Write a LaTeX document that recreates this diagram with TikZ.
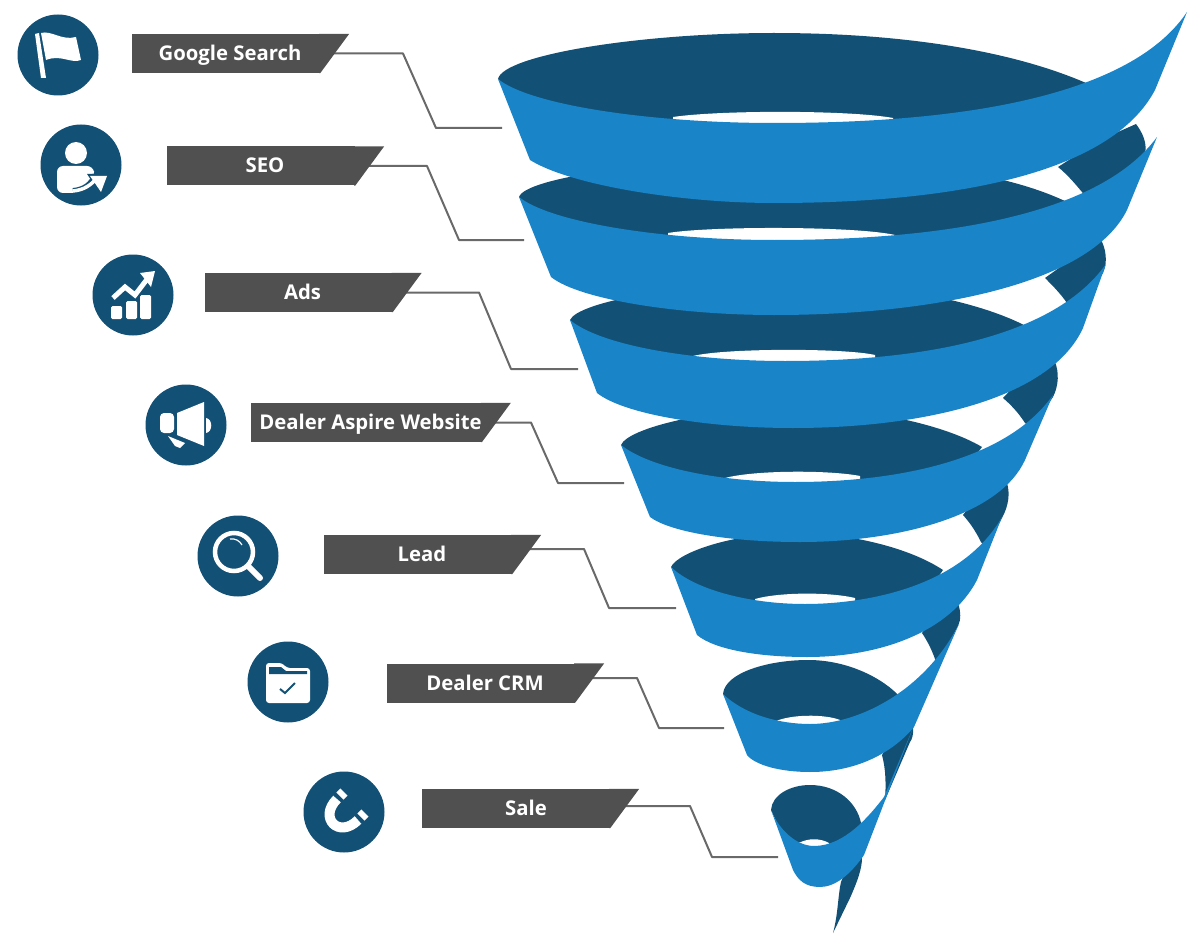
\documentclass[tikz,border=0pt]{standalone}
\usepackage{fontspec}
\setmainfont{Open Sans}
\usepackage{tikz}
\definecolor{funnelblue}{HTML}{1A84C9}
\definecolor{funneldark}{HTML}{125175}
\definecolor{taggray}{HTML}{505050}
\definecolor{wiregray}{HTML}{696969}
\tikzset{
  front/.style={fill=funnelblue},
  back/.style={fill=funneldark},
  hole/.style={fill=white},
  badge/.style={circle,fill=funneldark,minimum size=81pt,inner sep=0pt},
  tag/.style={rectangle,fill=taggray,inner sep=0pt,minimum height=39pt,minimum width=188pt,
    text=white,font=\fontsize{20.3}{23}\selectfont\bfseries,text height=14pt,text depth=0pt,
    execute at begin node={\hspace{8pt}}},
  wire/.style={draw=wiregray,line width=2pt,line join=round}
}
\begin{document}
\begin{tikzpicture}[x=1pt,y=-1pt]
  \useasboundingbox (0,0) rectangle (1200,947);

  % strips behind the ribbon
  \fill[back] (1100,140) -- (1136,124) .. controls (1146,137) and (1148,150) .. (1143,158) -- (1100,205) -- (1086,197) .. controls (1078,187) and (1068,175) .. (1058,167) -- cycle;
  \fill[back] (1070,260) -- (1100,238) .. controls (1106,248) and (1108,262) .. (1103,273) -- (1075,310) -- (1067,303) .. controls (1060,293) and (1052,285) .. (1045,278) -- cycle;
  \fill[back] (1020,380) -- (1055,362) .. controls (1059,372) and (1059,385) .. (1053,397) -- (1032,428) -- (1025,423) .. controls (1018,412) and (1010,404) .. (1003,398) -- cycle;
  \fill[back] (975,500) -- (1007,483) .. controls (1010,493) and (1009,505) .. (1002,518) -- (986,548) -- (981,542) .. controls (975,530) and (970,523) .. (963,515) -- cycle;
  \fill[back] (935,615) -- (958,603) .. controls (961,612) and (961,620) .. (958,626) -- (937,665) .. controls (933,652) and (928,642) .. (922,633) -- cycle;
  \fill[back] (895,735) -- (913,726) .. controls (914,733) and (912,740) .. (910,742) -- (885,800) .. controls (886,785) and (886,770) .. (882,755) -- cycle;
  \fill[back] (850,860) -- (862,858) .. controls (862,868) and (858,880) .. (850,898) -- (833,933) .. controls (838,915) and (838,895) .. (841,882) -- cycle;

  % layer 7
  \fill[back] (771,810) .. controls (772,795) and (790,785) .. (810,785) .. controls (838,785) and (857,803) .. (861,823) -- (850,850) -- (785,840) -- cycle;
  \fill[hole] (829,843) .. controls (820,838) and (808,838) .. (799,843) -- (799,848) -- (829,848) -- cycle;
  \fill[front] (771,810) .. controls (780,832) and (798,846) .. (814,846) .. controls (845,846) and (870,815) .. (884,797) -- (913,728) -- (864,855) .. controls (850,875) and (835,887) .. (820,887) .. controls (805,887) and (798,880) .. (793,870) -- cycle;

  % layer 6
  \fill[back] (723,694) .. controls (725,672) and (770,660) .. (808,660) .. controls (850,660) and (885,680) .. (900,697) -- (880,730) -- (808,745) -- (750,730) -- cycle;
  \fill[hole] (840,720) .. controls (825,714) and (790,714) .. (774,722) -- (774,728) -- (840,728) -- cycle;
  \fill[front] (723,694) .. controls (745,715) and (780,724) .. (810,724) .. controls (860,724) and (925,690) .. (959,624) -- (914,727) .. controls (895,750) and (860,772) .. (810,772) .. controls (780,772) and (755,765) .. (747,755) -- cycle;

  % layer 5
  \fill[back] (671,567) .. controls (678,552) and (735,533) .. (795,533) .. controls (850,533) and (910,548) .. (943,570) -- (915,610) -- (800,625) -- (700,600) -- cycle;
  \fill[hole] (855,598) .. controls (830,592) and (780,592) .. (755,599) -- (755,607) -- (855,607) -- cycle;
  \fill[front] (671,567) .. controls (695,590) and (750,604) .. (805,604) .. controls (860,604) and (960,590) .. (1002,517) -- (977,580) .. controls (950,632) and (880,657) .. (807,657) .. controls (760,657) and (715,650) .. (697,635) -- cycle;

  % layer 4
  \fill[back] (621,445) .. controls (628,428) and (710,408) .. (795,408) .. controls (870,408) and (945,425) .. (982,447) -- (950,490) -- (795,510) -- (655,480) -- cycle;
  \fill[hole] (860,476) .. controls (830,470) and (755,470) .. (725,478) -- (725,486) -- (860,486) -- cycle;
  \fill[front] (621,445) .. controls (650,468) and (720,482) .. (795,482) .. controls (870,482) and (1000,470) .. (1053,395) -- (1025,460) .. controls (1000,515) and (900,542) .. (800,542) .. controls (730,542) and (670,532) .. (650,517) -- cycle;

  % layer 3
  \fill[back] (570,320) .. controls (578,302) and (680,283) .. (790,283) .. controls (880,283) and (970,298) .. (1024,325) -- (990,370) -- (790,395) -- (610,365) -- cycle;
  \fill[hole] (875,355) .. controls (845,348) and (725,348) .. (693,356) -- (693,365) -- (875,365) -- cycle;
  \fill[front] (570,320) .. controls (600,345) and (690,361) .. (785,361) .. controls (880,361) and (1045,350) .. (1106,264) -- (1083,328) .. controls (1050,400) and (920,428) .. (793,428) .. controls (710,428) and (625,415) .. (597,393) -- cycle;

  % layer 2
  \fill[back] (519,197) .. controls (525,178) and (650,160) .. (774,160) .. controls (900,160) and (1000,170) .. (1067,202) -- (1030,250) -- (774,270) -- (560,240) -- cycle;
  \fill[hole] (895,235) .. controls (855,226) and (710,226) .. (668,233) -- (668,244) -- (895,244) -- cycle;
  \fill[front] (519,197) .. controls (550,222) and (660,240) .. (774,240) .. controls (895,240) and (1090,228) .. (1157,137) -- (1127,210) .. controls (1090,285) and (930,315) .. (774,315) .. controls (680,315) and (580,300) .. (551,277) -- cycle;

  % layer 1
  \fill[back] (498,79) .. controls (503,55) and (640,33) .. (774,33) .. controls (900,33) and (1010,50) .. (1086,83) -- (1050,130) -- (774,150) -- (540,120) -- cycle;
  \fill[hole] (893,118) .. controls (850,110) and (720,110) .. (673,117) -- (673,127) -- (893,127) -- cycle;
  \fill[front] (498,79) .. controls (530,105) and (650,123) .. (774,123) .. controls (900,123) and (1120,112) .. (1187,12) -- (1155,90) .. controls (1110,175) and (950,203) .. (774,203) .. controls (680,203) and (570,185) .. (530,160) -- cycle;

  % tags
  \node[tag] (tag1) at (226,53.5) {Google Search};
  \node[tag] (tag2) at (261,166) {SEO};
  \node[tag] (tag3) at (298.5,292.5) {Ads};
  \node[tag,minimum width=229pt] (tag4) at (366.5,422.5) {Dealer Aspire Website};
  \node[tag] (tag5) at (418,554.5) {Lead};
  \node[tag] (tag6) at (481,683) {Dealer CRM};
  \node[tag] (tag7) at (516,808.5) {\hspace{12pt}Sale};

  % wires
  \coordinate (end1) at (502,128);
  \coordinate (end2) at (524,240);
  \coordinate (end3) at (578,369);
  \coordinate (end4) at (624,483);
  \coordinate (end5) at (676,608);
  \coordinate (end6) at (724,728);
  \coordinate (end7) at (778,857);
  \draw[wire] (tag1.east) -- (403,53.5) -- (436,128) -- (end1);
  \draw[wire] (tag2.east) -- (427,166) -- (459,240) -- (end2);
  \draw[wire] (tag3.east) -- (479,292.5) -- (511,369) -- (end3);
  \draw[wire] (tag4.east) -- (531,422.5) -- (558,483) -- (end4);
  \draw[wire] ([yshift=5.5pt]tag5.east) -- (584,549) -- (609,608) -- (end5);
  \draw[wire] ([yshift=5pt]tag6.east) -- (637,678) -- (659,728) -- (end6);
  \draw[wire] ([yshift=2.5pt]tag7.east) -- (690,806) -- (712,857) -- (end7);

  % slanted ends of the tags
  \foreach \t in {tag1,tag2,tag3,tag4,tag5,tag6,tag7}
    \fill[taggray] ([xshift=-1pt]\t.north east) -- ++(30,0) -- (\t.south east) -- ([xshift=-1pt]\t.south east) -- cycle;

  % badges
  \node[badge] (flag) at (58,55) {};
  \node[badge] (person) at (81,165) {};
  \node[badge] (chart) at (133,295) {};
  \node[badge] (horn) at (186,425) {};
  \node[badge] (lens) at (238,556) {};
  \node[badge] (folder) at (288,682) {};
  \node[badge] (magnet) at (344,812) {};

  % flag
  \begin{scope}[shift={(flag.center)},white]
    \fill (-23,-21) -- (-19,-22) -- (-12,23) -- (-17,23) -- cycle;
    \fill (-17,-22) .. controls (-7,-25) and (4,-14) .. (18,-18) -- (23,5)
      .. controls (13,9) and (3,-1) .. (-12,5) -- cycle;
  \end{scope}

  % person
  \begin{scope}[shift={(person.center)},white]
    \fill (-5,-12) circle (11);
    \fill[rounded corners=6pt] (-24,28) -- (-24,1) -- (12,1) -- (14,12) -- (-3,28) -- cycle;
    \draw[funneldark,line width=6pt] (-8,26) .. controls (3,25) and (10,20) .. (14,11);
    \fill[funneldark] (6,9) -- (29,8) -- (21,31) -- cycle;
    \draw[line width=3.5pt] (-8,26) .. controls (3,25) and (10,20) .. (16,13);
    \fill (9,11) -- (26,11) -- (20,27) -- cycle;
  \end{scope}

  % chart
  \begin{scope}[shift={(chart.center)},white]
    \fill[rounded corners=1.5pt] (-22,11) rectangle (-11,24);
    \fill[rounded corners=1.5pt] (-7,6) rectangle (4,24);
    \fill[rounded corners=1.5pt] (7,0) rectangle (18,24);
    \draw[line width=5pt] (-20,3) -- (-8,-8) -- (2,0) -- (15,-17);
    \fill (22,-24) -- (7,-22) -- (18,-8) -- cycle;
  \end{scope}

  % horn
  \begin{scope}[shift={(horn.center)},white]
    \fill (-9,-12) -- (18,-23) -- (18,21) -- (-9,10) -- cycle;
    \fill[rounded corners=4pt] (-12,-12) -- (-26,-12) -- (-26,8) -- (-12,8) -- cycle;
    \fill (-18,11) -- (-1,18) -- (-6,23) -- (-11,21) -- cycle;
    \fill (20,-7) .. controls (27,-6) and (27,7) .. (20,8) -- cycle;
  \end{scope}

  % lens
  \begin{scope}[shift={(lens.center)},white]
    \draw[line width=4.5pt] (-4,-4) circle (19);
    \draw[line width=6pt,line cap=round] (11,11) -- (22,22);
    \draw[line width=1.2pt] (-8,-17) .. controls (-3,-18) and (2,-15) .. (4,-11);
  \end{scope}

  % folder
  \begin{scope}[shift={(folder.center)},white]
    \fill[rounded corners=3pt] (-22,-19) -- (-6,-19) -- (-1,-14) -- (22,-14) -- (22,21) -- (-22,21) -- cycle;
    \fill[funneldark] (-19,-15) -- (-7,-15) -- (-2,-11) -- (19,-11) -- (19,-8) -- (-19,-8) -- cycle;
    \draw[funneldark,line width=2pt] (-8,7) -- (-3,11) -- (7,1);
  \end{scope}

  % magnet
  \begin{scope}[shift={(magnet.center)},white]
    \draw[line width=10pt] (-7,-13) .. controls (-26,6) and (-5,27) .. (14,8);
    \draw[line width=10pt] (-4,-16) -- (0,-20);
    \draw[line width=10pt] (17,5) -- (21,1);
  \end{scope}
\end{tikzpicture}
\end{document}
